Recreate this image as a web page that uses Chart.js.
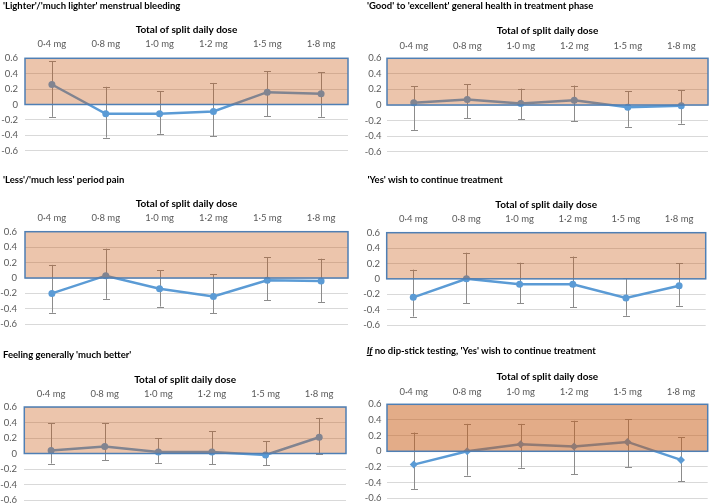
<!DOCTYPE html>
<html>
<head>
<meta charset="utf-8">
<script src="https://cdn.jsdelivr.net/npm/chart.js@4"></script>
<style>
  body { margin: 0; background: #fff; }
  #wrap { position: relative; width: 712px; height: 504px; overflow: hidden; }
  .cell { position: absolute; }
  .cell canvas { position: absolute; left: 0; top: 0; }
  .ttl { position: absolute; font: bold 9.5px Lato, sans-serif; color: #000; white-space: nowrap; line-height: 12px; }
</style>
</head>
<body>
<div id="wrap"></div>
<script>
const doses = ['0·4 mg', '0·8 mg', '1·0 mg', '1·2 mg', '1·5 mg', '1·8 mg'];
const yTicks = [-0.6, -0.4, -0.2, 0, 0.2, 0.4, 0.6];

const bleeding   = [0.26, -0.12, -0.12, -0.09, 0.16, 0.14];
const bleedingHi = [0.56, 0.23, 0.17, 0.28, 0.43, 0.42];
const bleedingLo = [-0.16, -0.43, -0.38, -0.41, -0.15, -0.16];

const health   = [0.03, 0.07, 0.02, 0.06, -0.03, -0.01];
const healthHi = [0.24, 0.27, 0.21, 0.25, 0.18, 0.19];
const healthLo = [-0.32, -0.17, -0.18, -0.21, -0.28, -0.24];

const pain   = [-0.20, 0.03, -0.14, -0.24, -0.03, -0.04];
const painHi = [0.17, 0.38, 0.10, 0.05, 0.27, 0.25];
const painLo = [-0.45, -0.27, -0.37, -0.46, -0.29, -0.31];

const wish   = [-0.24, 0.00, -0.07, -0.07, -0.25, -0.09];
const wishHi = [0.12, 0.34, 0.21, 0.29, 0.01, 0.20];
const wishLo = [-0.49, -0.32, -0.32, -0.37, -0.48, -0.35];

const better   = [0.04, 0.09, 0.02, 0.02, -0.02, 0.21];
const betterHi = [0.39, 0.39, 0.20, 0.29, 0.16, 0.46];
const betterLo = [-0.13, -0.09, -0.12, -0.14, -0.15, 0.00];

const dipstick   = [-0.17, 0.00, 0.09, 0.06, 0.12, -0.11];
const dipstickHi = [0.24, 0.35, 0.35, 0.39, 0.41, 0.18];
const dipstickLo = [-0.48, -0.31, -0.21, -0.29, -0.20, -0.38];

// shaded band covers 0 .. 0.6
const bandFrom = 0, bandTo = 0.6;

// panel layout (px, relative to each cell)
const panels = [
  { title: "'Lighter'/'much lighter' menstrual bleeding", data: bleeding, hi: bleedingHi, lo: bleedingLo,
    x: 0, y: 0, w: 356, h: 165, tx: 3, ty: 0, axisY: 30, tickY: 44, top: 58.3, bottom: 150.7, left: 25, right: 348, labRight: 18, alpha: 0.35, marker: 'circle' },
  { title: "'Good' to 'excellent' general health in treatment phase", data: health, hi: healthHi, lo: healthLo,
    x: 355, y: 0, w: 357, h: 165, tx: 12, ty: 0, axisY: 31, tickY: 45.5, top: 58.3, bottom: 151.7, left: 32, right: 353, labRight: 26.5, alpha: 0.35, marker: 'circle' },
  { title: "'Less'/'much less' period pain", data: pain, hi: painHi, lo: painLo,
    x: 0, y: 165, w: 356, h: 170, tx: 3, ty: 8.5, axisY: 39, tickY: 53, top: 66.7, bottom: 159.3, left: 25, right: 348, labRight: 17, alpha: 0.35, marker: 'circle' },
  { title: "'Yes' wish to continue treatment", data: wish, hi: wishHi, lo: wishLo,
    x: 355, y: 165, w: 357, h: 170, tx: 12.5, ty: 8.5, axisY: 39.3, tickY: 53.7, top: 67.7, bottom: 160, left: 31.7, right: 350.7, labRight: 25, alpha: 0.35, marker: 'circle' },
  { title: "Feeling generally 'much better'", data: better, hi: betterHi, lo: betterLo,
    x: 0, y: 335, w: 356, h: 169, tx: 3, ty: 14, axisY: 44.3, tickY: 59, top: 72, bottom: 165.3, left: 24.3, right: 346, labRight: 17, alpha: 0.35, marker: 'circle' },
  { title: "<u><i>If</i></u> no dip-stick testing, 'Yes' wish to continue treatment", data: dipstick, hi: dipstickHi, lo: dipstickLo,
    x: 355, y: 335, w: 357, h: 169, tx: 11.7, ty: 10, axisY: 42, tickY: 56.7, top: 69.3, bottom: 163.3, left: 32, right: 352.7, labRight: 26.5, alpha: 0.5, marker: 'rectRot' }
];

const FONT = 'Lato, sans-serif';
const TICK_LH = 11.4, AXIS_LH = 12;

const errorBars = {
  id: 'errorBars',
  beforeDatasetsDraw(chart, args, opts) {
    const { ctx, scales: { x, y } } = chart;
    ctx.save();
    ctx.strokeStyle = '#8c8c8c';
    ctx.lineWidth = 1;
    opts.hi.forEach((h, i) => {
      const px = Math.round(x.getPixelForValue(i)) + 0.5;
      const yh = y.getPixelForValue(h), yl = y.getPixelForValue(opts.lo[i]);
      ctx.beginPath();
      ctx.moveTo(px, yh); ctx.lineTo(px, yl);
      ctx.moveTo(px - 3.5, Math.round(yh) + 0.5); ctx.lineTo(px + 3.5, Math.round(yh) + 0.5);
      ctx.moveTo(px - 3.5, Math.round(yl) + 0.5); ctx.lineTo(px + 3.5, Math.round(yl) + 0.5);
      ctx.stroke();
    });
    ctx.restore();
  }
};

const band = {
  id: 'band',
  afterDatasetsDraw(chart, args, opts) {
    const { ctx, chartArea: a, scales: { y } } = chart;
    const yt = y.getPixelForValue(bandTo), yb = y.getPixelForValue(bandFrom);
    ctx.save();
    ctx.fillStyle = `rgba(200, 90, 18, ${opts.alpha})`;
    ctx.fillRect(a.left, yt, a.right - a.left, yb - yt);
    ctx.strokeStyle = '#4f7fb4';
    ctx.lineWidth = 1.5;
    ctx.strokeRect(a.left, yt, a.right - a.left, yb - yt);
    ctx.restore();
  }
};

const wrap = document.getElementById('wrap');

panels.forEach(p => {
  const cell = document.createElement('div');
  cell.className = 'cell';
  Object.assign(cell.style, { left: p.x + 'px', top: p.y + 'px', width: p.w + 'px', height: p.h + 'px' });
  const t = document.createElement('div');
  t.className = 'ttl';
  t.style.left = p.tx + 'px';
  t.style.top = p.ty + 'px';
  t.innerHTML = p.title;
  const cv = document.createElement('canvas');
  cv.width = p.w; cv.height = p.h;
  cv.style.width = p.w + 'px'; cv.style.height = p.h + 'px';
  cell.appendChild(cv);
  cell.appendChild(t);
  wrap.appendChild(cell);

  new Chart(cv.getContext('2d'), {
    type: 'line',
    data: {
      labels: doses,
      datasets: [{
        data: p.data,
        borderColor: '#5b9bd5',
        backgroundColor: '#5b9bd5',
        borderWidth: 2.5,
        pointStyle: p.marker,
        pointRadius: p.marker === 'circle' ? 3.5 : 4,
        pointBorderWidth: 0,
        tension: 0
      }]
    },
    plugins: [errorBars, band],
    options: {
      responsive: false,
      animation: false,
      devicePixelRatio: 1,
      layout: { padding: { top: 0, left: 0, right: p.w - p.right, bottom: p.h - p.bottom } },
      plugins: {
        legend: { display: false },
        tooltip: { enabled: false },
        errorBars: { hi: p.hi, lo: p.lo },
        band: { alpha: p.alpha }
      },
      scales: {
        x: {
          position: 'top',
          offset: true,
          grid: { display: false, drawTicks: false, tickLength: 0 },
          border: { display: false },
          ticks: { color: '#595959', font: { family: FONT, size: 9.5 }, padding: p.top - p.tickY - TICK_LH / 2, maxRotation: 0, autoSkip: false },
          title: { display: true, text: 'Total of split daily dose', color: '#000', font: { family: FONT, size: 10, weight: 'bold' }, padding: { top: p.axisY - AXIS_LH / 2, bottom: 0 } },
          afterFit(s) { s.height = p.top; s.paddingLeft = 0; s.paddingRight = 0; }
        },
        y: {
          min: yTicks[0],
          max: yTicks[yTicks.length - 1],
          afterBuildTicks(s) { s.ticks = yTicks.map(v => ({ value: v })); },
          grid: { color: '#d9d9d9', lineWidth: 1, drawTicks: false, tickLength: 0 },
          border: { display: false },
          ticks: { autoSkip: false, color: '#595959', font: { family: FONT, size: 9.5 }, padding: p.left - p.labRight,
            callback: v => String(+v.toFixed(1)) },
          afterFit(s) { s.width = p.left; s.paddingTop = 0; s.paddingBottom = 0; }
        }
      }
    }
  });
});
</script>
</body>
</html>
